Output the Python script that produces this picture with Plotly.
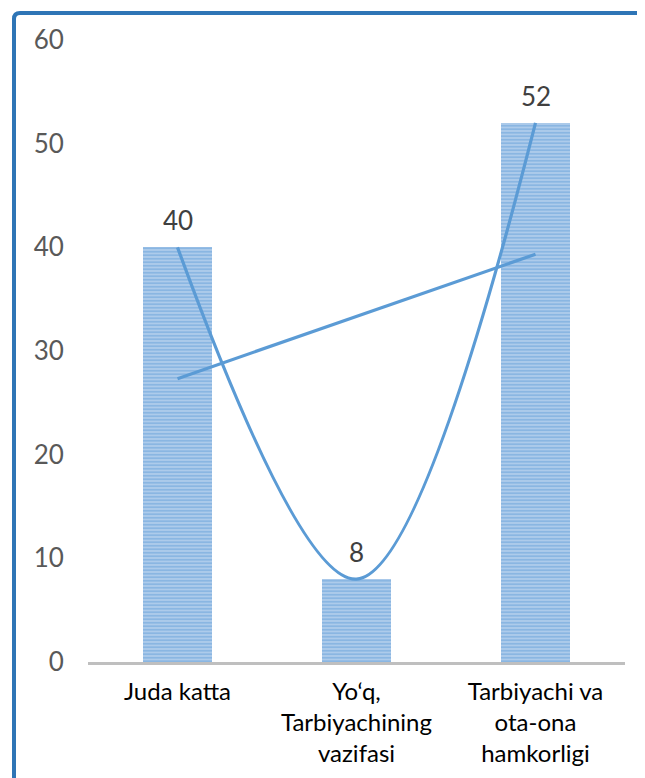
import numpy as np
import plotly.graph_objects as go

categories = ["Juda katta", "Yo‘q,<br>Tarbiyachining<br>vazifasi", "Tarbiyachi va<br>ota-ona<br>hamkorligi"]
values = [40, 8, 52]
y_ticks = [0, 10, 20, 30, 40, 50, 60]

xs = list(range(len(values)))
slope, intercept = np.polyfit(xs, values, 1)
trend_x = [xs[0], xs[-1]]
trend_y = [intercept + slope * xs[0], intercept + slope * xs[-1]]

BLUE = "#5B9BD5"

fig = go.Figure()
fig.add_trace(go.Bar(
    x=xs, y=values, width=0.38,
    marker=dict(color="#B8D1EE", line=dict(width=0),
                pattern=dict(shape="-", fgcolor=BLUE, bgcolor="#B8D1EE", size=3.5, solidity=0.62)),
    hoverinfo="skip", showlegend=False,
))
fig.add_trace(go.Scatter(
    x=xs, y=values, mode="lines", line=dict(color=BLUE, width=3.2, shape="spline", smoothing=1),
    showlegend=False, hoverinfo="skip",
))
fig.add_trace(go.Scatter(
    x=trend_x, y=trend_y, mode="lines", line=dict(color=BLUE, width=3.2),
    showlegend=False, hoverinfo="skip",
))

for xi, v in zip(xs, values):
    fig.add_annotation(x=xi, y=v, text=str(v), showarrow=False, yanchor="bottom",
                       yshift=9, font=dict(family="Lato", size=26, color="#404040"))

# page body has an 8px offset
OFF = 8
L, T = 88 - OFF, 40 - OFF
W, H = 645, 778
pw, ph = 537, 622
R, B = W - L - pw, H - T - ph

def px(x):
    return (x - OFF - L) / pw

def py(y):
    return (H - B - (y - OFF)) / ph

r = 6
fig.add_shape(type="path",
              path=f"M {px(14)},{py(900)} L {px(14)},{py(13 + r)} Q {px(14)},{py(13)} {px(14 + r)},{py(13)} L {px(760)},{py(13)}",
              xref="paper", yref="paper", line=dict(color="#2E75B6", width=4))

fig.update_layout(
    width=W, height=H, margin=dict(l=L, r=R, t=T, b=B),
    plot_bgcolor="white", paper_bgcolor="white",
    bargap=0,
)
fig.update_xaxes(range=[-0.5, 2.5], tickmode="array", tickvals=xs, ticktext=categories,
                 showline=True, linecolor="#BFBFBF", linewidth=3, showgrid=False, zeroline=False,
                 ticks="outside", ticklen=6, tickcolor="rgba(0,0,0,0)",
                 tickfont=dict(family="Lato", size=24, color="#000000"))
fig.update_yaxes(range=[0, 60], tickmode="array", tickvals=y_ticks, showgrid=False, zeroline=False,
                 showline=False, ticks="outside", ticklen=18, tickcolor="rgba(0,0,0,0)",
                 tickfont=dict(family="Lato", size=26, color="#595959"))

fig.write_html("out.html")
